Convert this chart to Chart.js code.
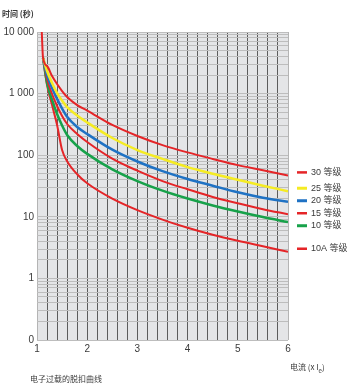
<!DOCTYPE html>
<html>
<head>
  <meta charset="utf-8">
  <title>电子过载的脱扣曲线</title>
  <script src="https://cdn.jsdelivr.net/npm/chart.js"></script>
  <style>
    body {
      margin: 0;
      background-color: #ffffff;
    }
    .box-chart {
      position: relative;
      width: 347px;
      height: 387px;
    }
  </style>
</head>
<body>
  <div class="box-chart">
    <canvas id="chart"></canvas>
  </div>
<script>
// current multiples (x Ie) where the curves were read
const currents = [1.2, 1.3, 1.4, 1.5, 1.6, 1.8, 2, 2.5, 3, 3.5, 4, 4.5, 5, 5.5, 6];

// common starting point of all curves, and top of the vertical part
const startPoint = [1.12, 3800];
const topPoint = [1.095, 10000];

// trip time in seconds for each class
const class30 = [2800, 1930, 1430, 1100, 880, 650, 530, 310, 205, 146, 111, 87, 69, 57, 47];
const class25 = [2330, 1490, 1020, 770, 605, 440, 340, 190, 121, 87, 64, 50, 40, 32, 26];
const class20 = [2000, 1230, 820, 570, 420, 287, 221, 123, 79, 55, 41, 32, 25, 20.4, 17.6];
const class15 = [1730, 985, 630, 433, 321, 221, 164, 88, 56, 38, 28, 21, 16.6, 13.3, 11];
const class10 = [1490, 790, 467, 303, 213, 141, 105, 59, 38, 26.6, 19.8, 15.3, 12.2, 9.9, 8.2];
const class10A = [1380, 650, 309, 121, 80, 49, 35, 19.7, 12.8, 9, 6.65, 5.1, 4.07, 3.32, 2.71];

const seriesNames = ['30 等级', '25 等级', '20 等级', '15 等级', '10 等级', '10A 等级'];
const seriesValues = [class30, class25, class20, class15, class10, class10A];
const seriesColors = ['#e52528', '#f5eb23', '#1f72c4', '#e52528', '#17a24a', '#e52528'];
const seriesWidths = [2, 2.5, 2.5, 2, 2.5, 2];

// x tick labels (integers only), vertical grid every 0.2
const xLabels = ['1', '2', '3', '4', '5', '6'];
const xGridStep = 0.2;
// y: decades and the minor steps inside a decade
const yDecades = [0.1, 1, 10, 100, 1000, 10000];
const yDecadeLabels = ['0', '1', '10', '100', '1 000', '10 000'];
const yMinorSteps = [1, 2, 3, 4, 5, 6, 7, 8, 9];

const tickFont = {family: '"Liberation Sans Narrow", "Liberation Sans", Arial', size: 10};
const textColor = '#3a3a3a';

function makePoints(values, index) {
  const pts = [];
  if (index === 0) {
    pts.push({x: topPoint[0], y: topPoint[1]});
  }
  pts.push({x: startPoint[0], y: startPoint[1]});
  for (let i = 0; i < currents.length; i++) {
    pts.push({x: currents[i], y: values[i]});
  }
  return pts;
}

const datasets = seriesValues.map(function(values, i) {
  return {
    label: seriesNames[i],
    data: makePoints(values, i),
    borderColor: seriesColors[i],
    borderWidth: seriesWidths[i],
    pointRadius: 0,
    cubicInterpolationMode: 'monotone',
    fill: false
  };
});

// grey plot background
const plotBackground = {
  id: 'plotBackground',
  beforeDraw(chart) {
    const a = chart.chartArea;
    const ctx = chart.ctx;
    ctx.save();
    ctx.fillStyle = '#e4e5e7';
    ctx.fillRect(a.left, a.top, a.right - a.left, a.bottom - a.top);
    ctx.restore();
  }
};

// titles, caption and the legend next to the curve ends
const extraText = {
  id: 'extraText',
  afterDraw(chart) {
    const ctx = chart.ctx;
    const a = chart.chartArea;
    const yScale = chart.scales.y;
    ctx.save();
    ctx.fillStyle = textColor;
    ctx.textBaseline = 'alphabetic';

    ctx.font = 'bold 8px "Noto Sans CJK SC"';
    ctx.fillText('时间 (秒)', 2, 17);

    ctx.font = '8px "Noto Sans CJK SC"';
    let x = a.right + 2;
    ctx.fillText('电流 (x I', x, 370);
    x += ctx.measureText('电流 (x I').width;
    ctx.font = '6px "Noto Sans CJK SC"';
    ctx.fillText('e', x, 373);
    x += ctx.measureText('e').width;
    ctx.font = '8px "Noto Sans CJK SC"';
    ctx.fillText(')', x, 370);

    ctx.fillText('电子过载的脱扣曲线', 30, 382);

    // legend
    ctx.textBaseline = 'middle';
    ctx.font = '9px "Liberation Sans Narrow", "Liberation Sans", "Noto Sans CJK SC"';
    let prev = -100;
    seriesValues.forEach(function(values, i) {
      let y = yScale.getPixelForValue(values[values.length - 1]) - 3;
      if (y < prev + 12.5) {
        y = prev + 12.5;
      }
      prev = y;
      ctx.strokeStyle = seriesColors[i];
      ctx.lineWidth = seriesWidths[i] + 0.5;
      ctx.beginPath();
      ctx.moveTo(a.right + 9, y);
      ctx.lineTo(a.right + 19, y);
      ctx.stroke();
      ctx.fillStyle = textColor;
      ctx.fillText(seriesNames[i], a.right + 23, y);
    });
    ctx.restore();
  }
};

function isWhole(v) {
  return Math.abs(v - Math.round(v)) < 1e-6;
}

new Chart(document.getElementById('chart').getContext('2d'), {
  type: 'line',
  data: {datasets: datasets},
  options: {
    responsive: true,
    maintainAspectRatio: false,
    animation: false,
    layout: {padding: {top: 32, right: 59, left: 0, bottom: 0}},
    plugins: {
      legend: {display: false},
      tooltip: {enabled: false}
    },
    scales: {
      x: {
        type: 'linear',
        min: 1,
        max: 6,
        border: {display: false},
        grid: {
          drawTicks: false,
          lineWidth: 1,
          color: function(c) {
            const v = c.tick ? c.tick.value : 0;
            if (Math.abs(v - 1) < 1e-6 || Math.abs(v - 6) < 1e-6) {
              return '#b4b4b4';
            }
            return '#5c5c5c';
          }
        },
        ticks: {
          autoSkip: false,
          maxRotation: 0,
          padding: 3,
          color: textColor,
          font: tickFont,
          callback: function(v) {
            if (!isWhole(v)) return '';
            return xLabels[Math.round(v) - 1];
          }
        },
        afterBuildTicks: function(scale) {
          const ticks = [];
          const n = Math.round((scale.max - scale.min) / xGridStep);
          for (let i = 0; i <= n; i++) {
            ticks.push({value: Number((scale.min + i * xGridStep).toFixed(3))});
          }
          scale.ticks = ticks;
        },
        afterFit: function(scale) {
          scale.height = 47;
        }
      },
      y: {
        type: 'logarithmic',
        min: 0.1,
        max: 10000,
        border: {display: false},
        grid: {
          drawTicks: false,
          lineWidth: 1,
          color: '#bdbdbd'
        },
        ticks: {
          autoSkip: false,
          padding: 3,
          color: textColor,
          font: tickFont,
          callback: function(v) {
            for (let i = 0; i < yDecades.length; i++) {
              if (Math.abs(v / yDecades[i] - 1) < 1e-6) return yDecadeLabels[i];
            }
            return '';
          }
        },
        afterBuildTicks: function(scale) {
          const ticks = [];
          yDecades.forEach(function(d, i) {
            if (i === yDecades.length - 1) {
              ticks.push({value: d, major: true});
              return;
            }
            yMinorSteps.forEach(function(s) {
              ticks.push({value: Number((d * s).toPrecision(6)), major: s === 1});
            });
          });
          scale.ticks = ticks;
        },
        afterFit: function(scale) {
          scale.width = 37;
        }
      }
    }
  },
  plugins: [plotBackground, extraText]
});
</script>
</body>
</html>
